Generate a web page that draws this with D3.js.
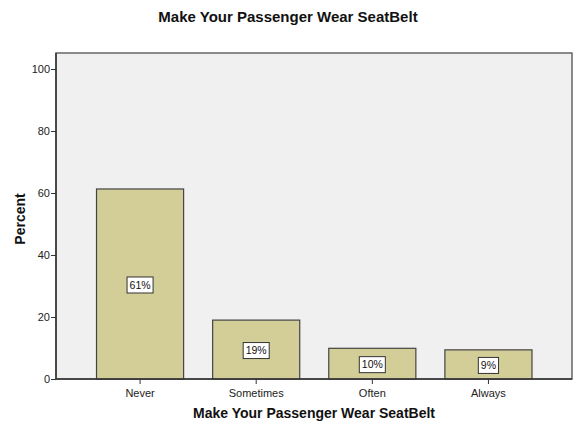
<!DOCTYPE html>
<html><head><meta charset="utf-8">
<script src="https://cdn.jsdelivr.net/npm/d3@7"></script>
<style>body{margin:0;background:#fff;} text{font-family:"Liberation Sans",Arial,sans-serif;}</style>
</head><body><svg id="c" width="578" height="423"></svg>
<script>
const categories = ["Never","Sometimes","Often","Always"];
const values = [61.3, 19.0, 9.9, 9.4];
const labels = ["61%","19%","10%","9%"];
const yTicks = [0,20,40,60,80,100];

const svg = d3.select("#c");
const plot = {l:56, r:572, t:53, b:379};
const y = d3.scaleLinear().domain([0,100]).range([379,69]);
const x = d3.scaleBand().domain(categories).range([82,546.5]).paddingInner(0.25).paddingOuter(0.125);

svg.append("rect").attr("x",plot.l).attr("y",plot.t).attr("width",plot.r-plot.l).attr("height",plot.b-plot.t)
  .attr("fill","#f0f0f0").attr("stroke","#666").attr("stroke-width",1.5);

svg.selectAll("rect.bar").data(values).enter().append("rect").attr("class","bar")
  .attr("x",(d,i)=>x(categories[i])).attr("width",x.bandwidth())
  .attr("y",d=>y(d)).attr("height",d=>y(0)-y(d))
  .attr("fill","#d3ce97").attr("stroke","#444").attr("stroke-width",1.2);

// value labels
const lg = svg.selectAll("g.lab").data(values).enter().append("g")
  .attr("transform",(d,i)=>`translate(${x(categories[i])+x.bandwidth()/2},${(y(d)+y(0))/2+1})`);
const lr = lg.append("rect").attr("fill","#fff").attr("stroke","#333").attr("stroke-width",1);
const lt = lg.append("text").attr("text-anchor","middle").attr("dy","0.35em").attr("font-size",10.5).attr("fill","#111")
  .text((d,i)=>labels[i]);
lt.each(function(d,i){
  const w = this.getComputedTextLength();
  d3.select(lr.nodes()[i]).attr("x",-w/2-2.5).attr("y",-8).attr("width",w+5).attr("height",16);
});

// y axis
const ya = svg.append("g").attr("transform",`translate(${plot.l},0)`)
  .call(d3.axisLeft(y).tickValues(yTicks).tickSize(5).tickSizeOuter(0));
ya.select(".domain").remove();
ya.selectAll("line").attr("stroke","#333");
ya.selectAll("text").attr("font-size",11).attr("fill","#222").attr("font-family","Liberation Sans, Arial, sans-serif").attr("x",-6);
svg.append("line").attr("x1",plot.l).attr("x2",plot.l).attr("y1",plot.t).attr("y2",plot.b).attr("stroke","#333").attr("stroke-width",1.5);

// x axis
const xa = svg.append("g").attr("transform",`translate(0,${plot.b})`)
  .call(d3.axisBottom(x).tickSize(5).tickSizeOuter(0));
xa.select(".domain").remove();
xa.selectAll("line").attr("stroke","#333");
xa.selectAll("text").attr("font-size",11).attr("fill","#222").attr("font-family","Liberation Sans, Arial, sans-serif").attr("dy","0.9em");
svg.append("line").attr("x1",plot.l).attr("x2",plot.r).attr("y1",plot.b).attr("y2",plot.b).attr("stroke","#333").attr("stroke-width",1.5);

svg.append("text").attr("x",288).attr("y",22).attr("text-anchor","middle").attr("font-size",15).attr("font-weight","bold").attr("fill","#111")
  .text("Make Your Passenger Wear SeatBelt");
svg.append("text").attr("x",(plot.l+plot.r)/2).attr("y",418).attr("text-anchor","middle").attr("font-size",14).attr("font-weight","bold").attr("fill","#111")
  .text("Make Your Passenger Wear SeatBelt");
svg.append("text").attr("transform","translate(25,219) rotate(-90)").attr("text-anchor","middle").attr("font-size",14).attr("font-weight","bold").attr("fill","#111")
  .text("Percent");
</script></body></html>
